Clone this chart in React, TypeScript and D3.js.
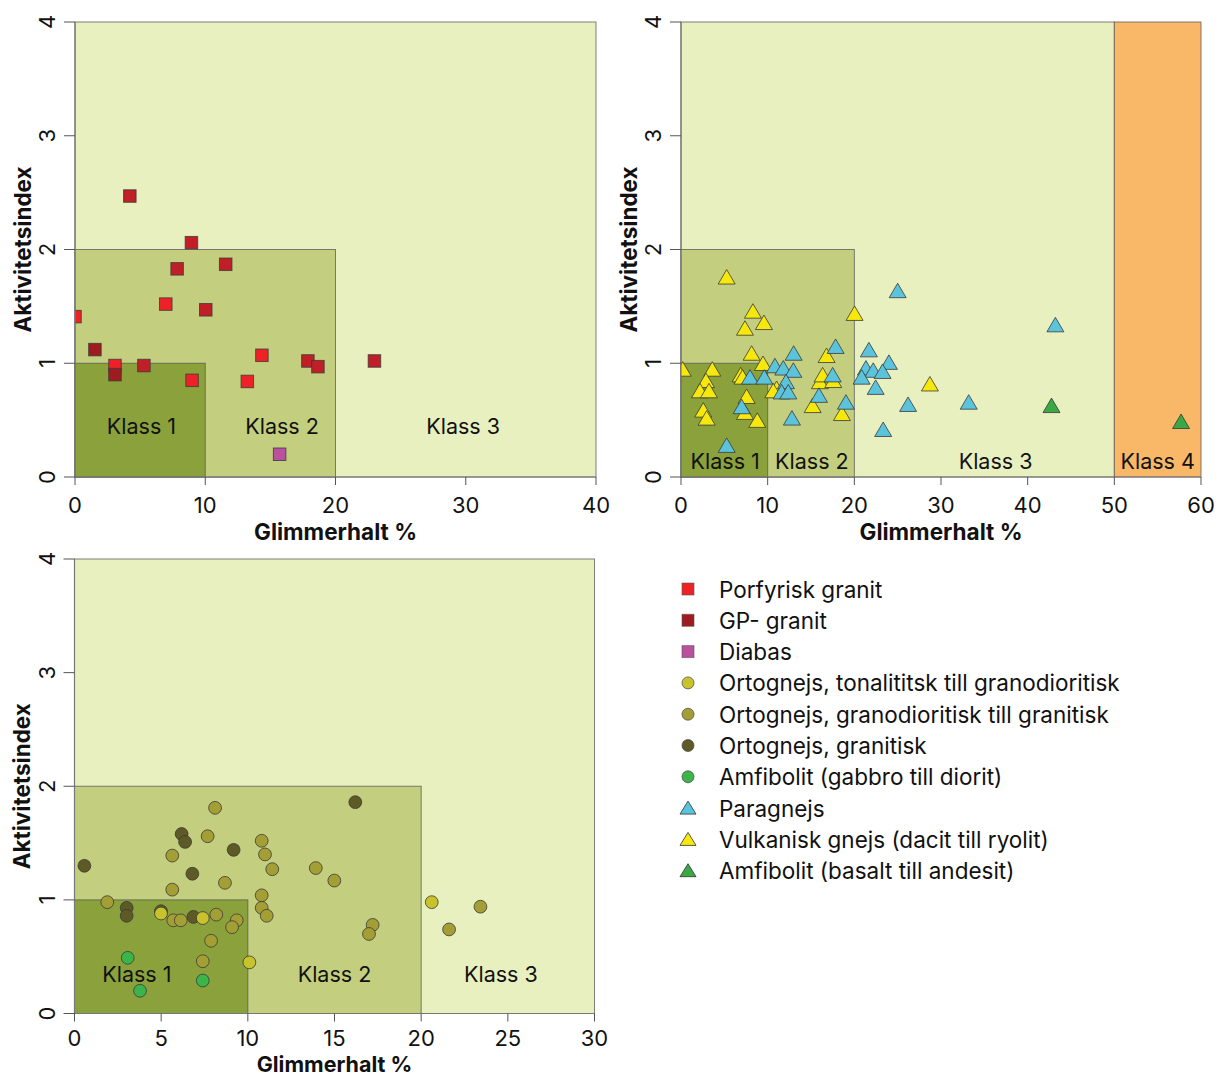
import React from 'react';
import * as d3 from 'd3';

// ---- data ----
type Pt = [number, number];

// panel 1 – granites
const porfyriskGranit: Pt[] = [[6.97, 1.52], [0, 1.41], [3.07, 0.98], [8.99, 0.85], [14.35, 1.07], [13.23, 0.84]];
const gpGranit: Pt[] = [[4.21, 2.47], [8.94, 2.06], [7.84, 1.83], [11.57, 1.87], [10.04, 1.47], [5.29, 0.98], [17.88, 1.02], [18.65, 0.97], [22.99, 1.02]];
const gpGranitMork: Pt[] = [[1.53, 1.12], [3.07, 0.9]];
const diabas: Pt[] = [[15.71, 0.2]];

// panel 2 – gneisses
const vulkaniskGnejs: Pt[] = [
  [5.27, 1.76], [8.3, 1.46], [9.57, 1.36], [7.38, 1.31], [20.03, 1.44], [8.15, 1.09], [9.46, 1.0], [16.8, 1.07],
  [0.2, 0.95], [3.61, 0.95], [2.88, 0.85], [2.19, 0.76], [3.23, 0.76], [6.88, 0.9], [7.1, 0.88], [7.57, 0.71],
  [2.57, 0.59], [2.96, 0.52], [7.38, 0.57], [8.8, 0.5], [11.03, 0.78], [10.65, 0.76], [16.03, 0.84], [16.34, 0.9],
  [17.57, 0.85], [15.19, 0.63], [18.57, 0.56], [28.72, 0.82],
];
const paragnejs: Pt[] = [
  [25.0, 1.64], [17.84, 1.15], [13.0, 1.09], [21.68, 1.12], [23.99, 1.01], [10.84, 0.98], [11.8, 0.96], [12.96, 0.94],
  [21.34, 0.96], [22.18, 0.94], [23.26, 0.93], [20.84, 0.88], [17.5, 0.9], [7.96, 0.88], [9.61, 0.88], [12.11, 0.84],
  [11.61, 0.75], [12.38, 0.75], [15.92, 0.72], [22.46, 0.79], [19.03, 0.66], [7.0, 0.62], [12.8, 0.52], [26.2, 0.64],
  [23.33, 0.42], [5.27, 0.28], [43.2, 1.34], [33.2, 0.66],
];
const amfibolitBasalt: Pt[] = [[42.75, 0.63], [57.7, 0.49]];

// panel 3 – orthogneisses
const ortoGranitisk: Pt[] = [[6.18, 1.58], [6.38, 1.51], [9.18, 1.44], [0.57, 1.3], [6.8, 1.23], [3.01, 0.93], [3.01, 0.86], [4.99, 0.9], [6.86, 0.85], [16.2, 1.86]];
const ortoGranodioritisk: Pt[] = [
  [8.11, 1.81], [7.68, 1.56], [10.8, 1.52], [10.99, 1.4], [11.41, 1.27], [5.64, 1.39], [8.68, 1.15], [5.64, 1.09],
  [10.8, 1.04], [10.8, 0.93], [11.09, 0.86], [1.89, 0.98], [5.7, 0.82], [6.13, 0.82], [8.18, 0.87], [9.36, 0.82],
  [9.09, 0.76], [7.88, 0.64], [7.4, 0.46], [13.92, 1.28], [14.99, 1.17], [17.2, 0.78], [16.99, 0.7], [21.61, 0.74], [23.42, 0.94],
];
const ortoTonalitisk: Pt[] = [[4.99, 0.88], [7.4, 0.84], [10.09, 0.45], [20.61, 0.98]];
const amfibolitGabbro: Pt[] = [[3.07, 0.49], [3.78, 0.2], [7.4, 0.29]];

const yTicks = [0, 1, 2, 3, 4];
const xTicks1 = [0, 10, 20, 30, 40];
const xTicks2 = [0, 10, 20, 30, 40, 50, 60];
const xTicks3 = [0, 5, 10, 15, 20, 25, 30];

// class limits [x0, x1, yTop] (all start at y = 0)
type Rect = [number, number, number];
const zones1: Rect[] = [[0, 40, 4], [0, 20, 2], [0, 10, 1]];
const zones2: Rect[] = [[0, 50, 4], [50, 60, 4], [0, 20, 2], [0, 10, 1]];
const zones3: Rect[] = [[0, 30, 4], [0, 20, 2], [0, 10, 1]];
const zoneColors1 = ['#e9f0c0', '#c3cf7f', '#8ba23c'];
const zoneColors2 = ['#e9f0c0', '#f9b868', '#c3cf7f', '#8ba23c'];

const klassLabels1: [string, number, number][] = [['Klass 1', 5.1, 0.45], ['Klass 2', 15.9, 0.45], ['Klass 3', 29.8, 0.45]];
const klassLabels2: [string, number, number][] = [['Klass 1', 5.1, 0.14], ['Klass 2', 15.1, 0.14], ['Klass 3', 36.3, 0.14], ['Klass 4', 55, 0.14]];
const klassLabels3: [string, number, number][] = [['Klass 1', 3.6, 0.35], ['Klass 2', 15.0, 0.35], ['Klass 3', 24.6, 0.35]];

const legendNames = [
  'Porfyrisk granit', 'GP- granit', 'Diabas',
  'Ortognejs, tonalititsk till granodioritisk', 'Ortognejs, granodioritisk till granitisk', 'Ortognejs, granitisk',
  'Amfibolit (gabbro till diorit)', 'Paragnejs', 'Vulkanisk gnejs (dacit till ryolit)', 'Amfibolit (basalt till andesit)',
];
const legendShapes = ['square', 'square', 'square', 'circle', 'circle', 'circle', 'circle', 'triangle', 'triangle', 'triangle'];
const legendColors = ['#ee2226', '#9e1b20', '#b9519e', '#c8c32c', '#a49f34', '#5d5a26', '#3bb44a', '#5bc4dc', '#f6e80c', '#3aa845'];

const FONT = "Inter, 'Open Sans', sans-serif";

type Series = { pts: Pt[]; shape: string; color: string };

function Marker({ shape, color, x, y }: { shape: string; color: string; x: number; y: number }) {
  const stroke = '#3a3a3a';
  if (shape === 'square') {
    const s = 12.5;
    return <rect x={x - s / 2} y={y - s / 2} width={s} height={s} fill={color} stroke={stroke} strokeWidth={1} strokeOpacity={0.8} />;
  }
  if (shape === 'circle') {
    return <circle cx={x} cy={y} r={6.4} fill={color} stroke={stroke} strokeWidth={1} strokeOpacity={0.8} />;
  }
  const w = 17, h = 14.5;
  return <path d={`M${x},${y - h / 2}L${x + w / 2},${y + h / 2}L${x - w / 2},${y + h / 2}Z`} fill={color} stroke={stroke} strokeWidth={1} strokeOpacity={0.8} strokeLinejoin="round" />;
}

function Panel({ id, left, right, top, bottom, xMax, xTicks, zones, zoneColors, labels, series, tickGap = 28, titleGap = 54, titleSize = 22.5 }: {
  id: string; left: number; right: number; top: number; bottom: number; xMax: number; xTicks: number[];
  zones: Rect[]; zoneColors: string[]; labels: [string, number, number][]; series: Series[];
  tickGap?: number; titleGap?: number; titleSize?: number;
}) {
  const x = d3.scaleLinear().domain([0, xMax]).range([left, right]);
  const y = d3.scaleLinear().domain([0, 4]).range([bottom, top]);
  const tl = 8;
  return (
    <g>
      <defs>
        <clipPath id={id}>
          <rect x={left} y={top} width={right - left} height={bottom - top} />
        </clipPath>
      </defs>
      {zones.map((z, i) => (
        <rect key={i} x={x(z[0])} y={y(z[2])} width={x(z[1]) - x(z[0])} height={y(0) - y(z[2])}
          fill={zoneColors[i]} stroke="#555" strokeOpacity={0.75} strokeWidth={1} />
      ))}
      {labels.map(([t, lx, ly]) => (
        <text key={t} x={x(lx)} y={y(ly)} textAnchor="middle" dominantBaseline="central" fontSize={21.5} fontFamily={FONT} fill="#111">{t}</text>
      ))}
      <g clipPath={`url(#${id})`}>
        {series.map((s, si) => s.pts.map((p, i) => (
          <Marker key={`${si}-${i}`} shape={s.shape} color={s.color} x={x(p[0])} y={y(p[1])} />
        )))}
      </g>
      {/* axes */}
      <line x1={left} x2={right} y1={bottom} y2={bottom} stroke="#777" strokeWidth={1.2} />
      <line x1={left} x2={left} y1={top} y2={bottom} stroke="#777" strokeWidth={1.2} />
      {xTicks.map(t => (
        <g key={t}>
          <line x1={x(t)} x2={x(t)} y1={bottom} y2={bottom + tl} stroke="#555" />
          <text x={x(t)} y={bottom + tickGap} textAnchor="middle" dominantBaseline="central" fontSize={22} fontFamily={FONT} fill="#111">{t}</text>
        </g>
      ))}
      {yTicks.map(t => (
        <g key={t}>
          <line x1={left - tl - 3} x2={left} y1={y(t)} y2={y(t)} stroke="#555" />
          <text transform={`translate(${left - 28},${y(t)}) rotate(-90)`} textAnchor="middle" dominantBaseline="central" fontSize={22} fontFamily={FONT} fill="#111">{t}</text>
        </g>
      ))}
      <text x={(left + right) / 2} y={bottom + titleGap} textAnchor="middle" dominantBaseline="central" fontSize={titleSize} fontWeight={700} fontFamily={FONT} fill="#111">Glimmerhalt %</text>
      <text transform={`translate(${left - 53},${(top + bottom) / 2}) rotate(-90)`} textAnchor="middle" dominantBaseline="central" fontSize={22.5} fontWeight={700} fontFamily={FONT} fill="#111">Aktivitetsindex</text>
    </g>
  );
}

export default function App() {
  const s1: Series[] = [
    { pts: gpGranit, shape: 'square', color: '#c11f28' },
    { pts: porfyriskGranit, shape: 'square', color: legendColors[0] },
    { pts: gpGranitMork, shape: 'square', color: legendColors[1] },
    { pts: diabas, shape: 'square', color: legendColors[2] },
  ];
  const s2: Series[] = [
    { pts: vulkaniskGnejs, shape: 'triangle', color: legendColors[8] },
    { pts: paragnejs, shape: 'triangle', color: legendColors[7] },
    { pts: amfibolitBasalt, shape: 'triangle', color: legendColors[9] },
  ];
  const s3: Series[] = [
    { pts: ortoGranitisk, shape: 'circle', color: legendColors[5] },
    { pts: ortoGranodioritisk, shape: 'circle', color: legendColors[4] },
    { pts: ortoTonalitisk, shape: 'circle', color: legendColors[3] },
    { pts: amfibolitGabbro, shape: 'circle', color: legendColors[6] },
  ];
  return (
    <svg width={1220} height={1077} style={{ position: 'absolute', left: 0, top: 0, background: '#fff' }}>
      <Panel id="c1" left={75} right={596} top={22} bottom={477} xMax={40} xTicks={xTicks1}
        zones={zones1} zoneColors={zoneColors1} labels={klassLabels1} series={s1} />
      <Panel id="c2" left={681} right={1201} top={22} bottom={477} xMax={60} xTicks={xTicks2}
        zones={zones2} zoneColors={zoneColors2} labels={klassLabels2} series={s2} />
      <Panel id="c3" left={74.5} right={594.5} top={559} bottom={1013.5} xMax={30} xTicks={xTicks3}
        zones={zones3} zoneColors={zoneColors1} labels={klassLabels3} series={s3} tickGap={24} titleGap={50} titleSize={21.5} />
      <g>
        {legendNames.map((n, i) => {
          const ly = 589 + i * 31.3;
          return (
            <g key={n}>
              {legendShapes[i] === 'square'
                ? <rect x={682} y={ly - 6} width={12} height={12} fill={legendColors[i]} stroke="#555" strokeOpacity={0.6} />
                : legendShapes[i] === 'circle'
                  ? <circle cx={688} cy={ly} r={6} fill={legendColors[i]} stroke="#444" strokeOpacity={0.7} />
                  : <path d={`M688,${ly - 7}L696,${ly + 6}L680,${ly + 6}Z`} fill={legendColors[i]} stroke="#333" strokeOpacity={0.8} />}
              <text x={719} y={ly} dominantBaseline="central" fontSize={22.5} fontFamily={FONT} fill="#111">{n}</text>
            </g>
          );
        })}
      </g>
    </svg>
  );
}
